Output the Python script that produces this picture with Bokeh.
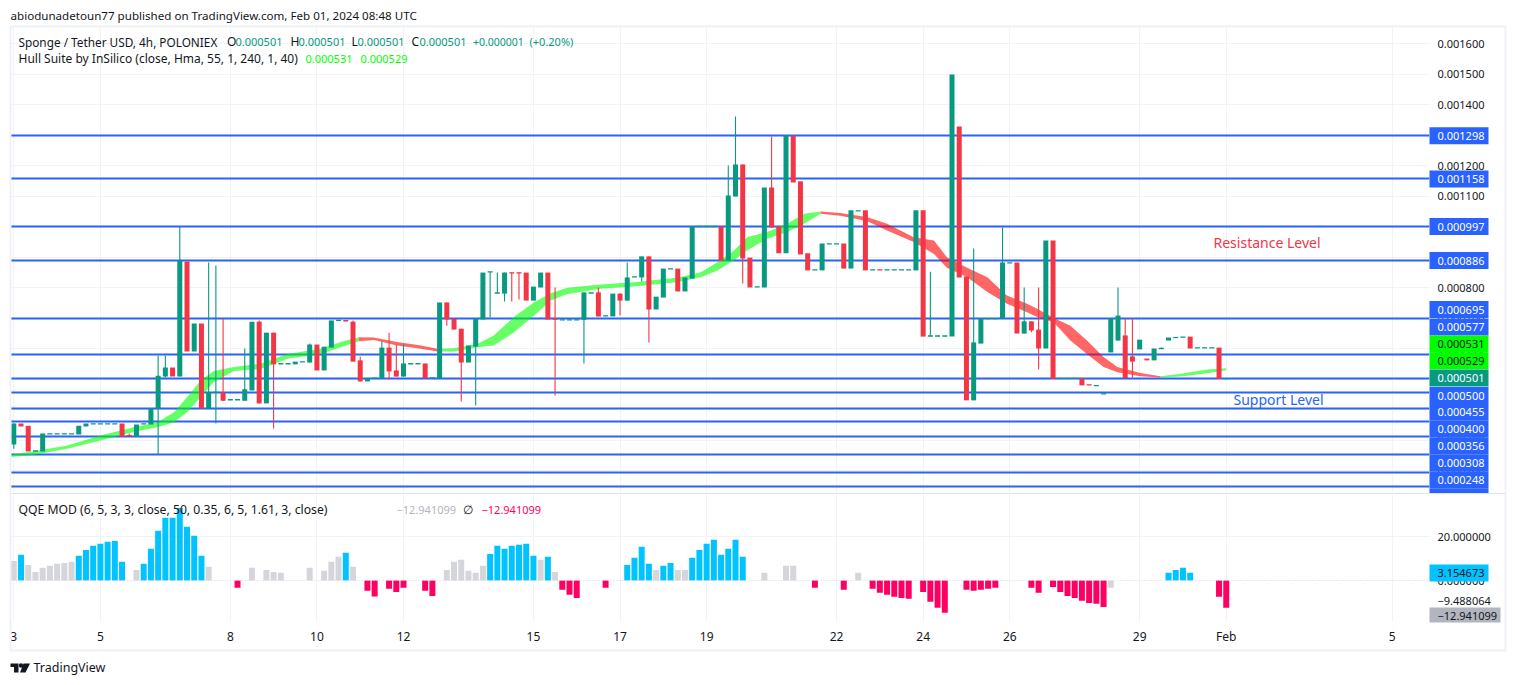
from bokeh.plotting import figure
from bokeh.layouts import column, row
from bokeh.embed import file_html
from bokeh.resources import INLINE
from bokeh.models import (Range1d, FixedTicker, PrintfTickFormatter, Grid, Label, LinearAxis, Span)
import numpy as np

FONT = "Noto Sans"
UNIT = 1e-6   # the price lists below are in millionths of USDT

# ---------- data ----------
opens = [285,354,347,264,262,320,320,320,320,318,
         344,353,353,353,353,354,315,311,353,351,
         402,508,538,508,885,590,682,403,456,456,
         432,432,429,462,688,420,652,550,550,548,
         556,554,613,528,603,692,692,688,561,492,
         503,502,603,528,508,550,550,551,504,502,
         751,698,665,554,606,695,851,782,780,849,
         849,849,757,800,849,697,694,694,694,694,
         782,784,707,705,780,757,835,833,902,728,
         767,861,862,787,829,1000,1000,1000,1000,889,
         1098,1203,898,802,800,1128,1001,912,1298,1148,
         912,858,856,943,943,944,862,1051,1053,858,
         859,858,858,858,858,856,1053,641,641,641,
         639,1328,836,430,616,698,698,698,881,882,
         649,689,662,600,954,502,502,502,502,482,
         478,451,587,626,643,574,597,567,561,600,
         626,634,637,639,602,602,602,603,501]
closes = [354,344,262,264,321,320,320,320,320,347,
          354,353,353,353,353,311,314,351,353,403,
          511,538,508,888,590,682,403,457,456,429,
          432,432,466,688,420,652,548,550,550,557,
          556,613,528,606,692,692,691,557,492,502,
          503,603,525,508,551,550,550,502,504,751,
          695,662,554,610,698,849,851,782,849,848,
          848,757,803,849,695,696,694,694,694,784,
          782,705,707,780,757,833,835,902,728,770,
          862,861,787,833,1000,1000,1000,1000,888,1102,
          1203,895,800,802,1128,997,912,1298,1144,908,
          856,858,944,943,943,862,1053,1051,856,858,
          858,858,858,858,858,1053,639,641,641,641,
          1498,833,430,620,698,698,698,882,881,649,
          689,659,600,954,500,502,502,502,479,481,
          478,451,698,708,503,557,629,561,600,600,
          636,638,637,600,602,602,602,500,501]
upper_wicks = {16:321,20:577,21:577,23:998,27:882,28:872,29:698,32:600,34:692,41:616,47:692,48:574,
               51:623,52:652,53:613,54:613,66:852,67:849,75:800,81:800,85:882,99:1200,100:1361,
               105:1295,127:852,133:928,137:997,140:800,142:800,153:800,154:698,155:698,159:603}
lower_wicks = {0:271,20:252,21:505,28:354,36:338,52:498,60:675,62:426,64:413,66:702,68:754,69:754,
               70:761,75:446,79:551,84:708,87:820,88:620,101:813,141:653,142:531,155:505}

hull_idx = [-0.4,2.8,7.4,12,16.6,19.9,22.2,24,25.9,27.7,30.5,34.2,37.9,42.5,45.3,47.8,
            49.9,53.1,56.4,58.7,61,64.2,66.5,69.3,72.1,74.4,76.7,81.3,85.9,91.9,95.2,97.5,99.8,
            101.6,104.4,107.2,109.5,111.8,114.5,118.2,121,124.7,127.5,129.3,132.1,134.9,137.6,
            140.4,141.8,144.1,146.4,148.7,151,152.9,156.1,158.9,161.7,165.4,168]
hull_top = [252,263,282,315,342,358,391,440,495,526,539,550,582,599,621,637,
            636,621,610,599,601,615,643,703,752,781,799,810,817,832,850,883,921,
            965,982,1009,1042,1049,1044,1031,1009,965,954,899,865,834,774,
            747,730,700,675,626,572,539,520,509,517,531,535]
hull_bottom = [244,252,271,298,326,342,358,391,440,490,526,533,566,582,604,624,
               628,610,599,590,590,604,610,653,708,757,779,796,803,817,834,856,889,
               921,960,982,1009,1042,1035,1018,987,949,910,865,834,785,747,
               719,703,686,626,582,539,522,509,505,508,519,529]
hull_flips = [47.8,58.7,111.8,158.9]

levels = [1298.4,1157.4,1000,888.5,698.4,580.3,501.6,455.7,403.3,360.7,311.5,252.5,193.5,147.5]
price_ticks = [1600,1500,1400,1300,1200,1100,1000,900,800,700,600,500,400,300,200]

qqe = [8.9,11.7,7.1,3.9,5.8,6.7,7.6,8.0,8.5,11.2,
       13.9,15.8,16.7,17.6,18.0,8.5,0,4.8,7.6,14.4,
       22.6,28.5,28.5,33.0,24.4,20.3,11.2,6.2,0,0,
       0,-3.3,0,5.8,0,4.8,3.9,3.5,0,0,
       0,5.8,0,4.4,8.5,10.8,12.6,6.2,0,-4.7,
       -7.3,0,-3.8,-5.2,-3.3,0,0,-4.7,-7.0,0,
       4.8,8.5,9.4,4.4,3.5,6.7,12.1,15.8,14.4,15.8,
       16.2,16.7,11.2,9.4,10.8,3.9,-4.2,-6.5,-7.9,0,
       0,0,-3.3,0,0,7.1,10.3,15.3,7.6,4.8,
       6.7,8.0,4.8,4.8,10.3,13.9,16.7,18.5,11.7,14.4,
       18.5,10.8,0,0,3.5,0,0,6.7,6.7,0,
       0,-3.3,0,0,0,-4.2,0,3.5,0,-3.8,
       -5.6,-6.5,-7.4,-7.9,-8.3,0,-5.2,-9.7,-12.4,-14.7,
       0,0,-4.2,-4.7,-4.2,-3.8,-3.3,0,0,0,
       0,-3.3,-5.6,0,-2.9,-5.2,-7.0,-7.9,-9.2,-10.2,
       -10.6,-12.0,-3.3,0,0,0,0,0,0,0,
       3.5,4.8,5.8,3.5,0,0,0,-7.4,-12.4]
qqe_grey = {0,2,3,4,5,6,7,8,17,27,33,35,36,37,41,43,44,45,47,60,61,62,63,64,65,73,75,89,92,93,
            104,107,108,117,152}

tick_bars = [0,12,30,42,54,72,84,96,114,126,138,156,168,191]
tick_names = ["3","5","8","10","12","15","17","19","22","24","26","29","Feb","5"]

BLUE_TAG, LIME, TEAL = "#2962FF", "#00FF00", "#089981"
tag_texts = [("0.001298",BLUE_TAG,"#FFFFFF"),("0.001158",BLUE_TAG,"#FFFFFF"),("0.000997",BLUE_TAG,"#FFFFFF"),
             ("0.000886",BLUE_TAG,"#FFFFFF"),("0.000695",BLUE_TAG,"#FFFFFF"),("0.000577",BLUE_TAG,"#FFFFFF"),
             ("0.000531",LIME,"#131722"),("0.000529",LIME,"#131722"),("0.000501",TEAL,"#FFFFFF"),
             ("0.000500",BLUE_TAG,"#FFFFFF"),("0.000455",BLUE_TAG,"#FFFFFF"),("0.000400",BLUE_TAG,"#FFFFFF"),
             ("0.000356",BLUE_TAG,"#FFFFFF"),("0.000308",BLUE_TAG,"#FFFFFF"),("0.000248",BLUE_TAG,"#FFFFFF")]
tag_rows = [135.3,178.5,226,260,309,326.5,343.5,360.3,377.5,395,411.7,428.7,445.7,462.7,479.7]

# ---------- geometry of the page (reference pixels) ----------
LEFT, RIGHT = 10, 1429
P_TOP, P_BOT = 27, 492
Q_TOP, Q_BOT = 494, 621
PAGE_W, PAGE_H = 1507, 677
BAR0, BAR_STEP = 13.3, 7.217
PX_PER_UNIT = 305000 * UNIT      # pixels per price unit
def price_at(y): return (1600 - (y - 43) / PX_PER_UNIT) * UNIT
def bar_at(x): return (x - BAR0) / BAR_STEP

x_range = Range1d(bar_at(LEFT), bar_at(RIGHT))

GREEN, RED, BLUE = "#089981", "#F23645", "#2962FF"
GRID = "#F0F3FA"
TEXT = "#131722"
NUM = "11px"
TXT = "12px"

def make_fig(height, top, bottom, y_range, **kw):
    f = figure(width=PAGE_W, height=height, x_range=x_range, y_range=y_range, output_backend="svg",
               toolbar_location=None, x_axis_location=None, y_axis_location="right",
               min_border_left=LEFT, min_border_right=PAGE_W - RIGHT, min_border_top=top,
               min_border_bottom=bottom, background_fill_color="white", border_fill_color="white",
               outline_line_color=None, **kw)
    f.grid.visible = False
    f.add_layout(Grid(dimension=0, ticker=FixedTicker(ticks=tick_bars), grid_line_color=GRID, grid_line_width=1))
    return f

def style_axis(ax):
    ax.axis_line_color = None
    ax.major_tick_line_color = None
    ax.minor_tick_line_color = None
    ax.major_label_text_font = FONT
    ax.major_label_text_font_size = NUM
    ax.major_label_text_color = TEXT

# ---------- price pane ----------
p = make_fig(P_BOT, P_TOP, 0, Range1d(price_at(P_BOT), price_at(P_TOP)))
p.add_layout(Grid(dimension=1, ticker=FixedTicker(ticks=[v * UNIT for v in price_ticks]),
                  grid_line_color=GRID, grid_line_width=1))
ax = p.yaxis[0]
ax.ticker = FixedTicker(ticks=[v * UNIT for v in price_ticks])
ax.formatter = PrintfTickFormatter(format="%.6f")
style_axis(ax)
ax.major_label_standoff = 2

p.hspan(y=[v * UNIT for v in levels], line_color=BLUE, line_width=2)

edges = [hull_idx[0]] + hull_flips + [hull_idx[-1]]
hx, ht, hb = np.array(hull_idx), np.array(hull_top) * UNIT, np.array(hull_bottom) * UNIT
for k in range(len(edges) - 1):
    m = (hx >= edges[k]) & (hx <= edges[k + 1])
    col = "#00FF00" if k % 2 == 0 else "#FF0000"
    p.varea(x=hx[m], y1=ht[m], y2=hb[m], fill_color=col, fill_alpha=0.6)

o, c = np.array(opens, float), np.array(closes, float)
idx = np.arange(len(o))
hi = np.maximum(o, c)
lo = np.minimum(o, c)
for k, v in upper_wicks.items(): hi[k] = v
for k, v in lower_wicks.items(): lo[k] = v
up = c >= o
doji = np.abs(c - o) <= 1
colors = np.where(up, GREEN, RED)
wick = hi - lo > np.abs(c - o)
p.segment(x0=idx[wick], x1=idx[wick], y0=hi[wick] * UNIT, y1=lo[wick] * UNIT, line_color=colors[wick], line_width=1.1)
big = ~doji
BW = 5 / BAR_STEP
p.vbar(x=idx[big], width=BW, top=np.maximum(o, c)[big] * UNIT, bottom=np.minimum(o, c)[big] * UNIT,
       fill_color=colors[big], line_color=None)
p.vbar(x=idx[doji], width=BW, top=c[doji] * UNIT, bottom=c[doji] * UNIT, fill_color=colors[doji],
       line_color=colors[doji], line_width=1.3)

# ---------- QQE pane ----------
QS = 2.2  # pixels per unit
qrange = Range1d((580 - Q_BOT) / QS, (580 - Q_TOP) / QS)
q = make_fig(PAGE_H - P_BOT, Q_TOP - P_BOT, PAGE_H - Q_BOT, qrange)
q.add_layout(Grid(dimension=1, ticker=FixedTicker(ticks=[20]), grid_line_color=GRID, grid_line_width=1))
qa = q.yaxis[0]
qa.ticker = FixedTicker(ticks=[20, 0, -9.488064])
qa.major_label_overrides = {20: "20.000000", 0: "0.000000", -9.488064: "\u22129.488064"}
style_axis(qa)
qa.major_label_standoff = 2

qv = np.array(qqe, float)
qcol = ["#D5D6DB" if i in qqe_grey else ("#00C3FF" if v > 0 else "#FF0062") for i, v in enumerate(qv)]
qi = np.arange(len(qv))
m = qv != 0
q.vbar(x=qi[m], width=6 / BAR_STEP, top=qv[m], bottom=0, fill_color=[qcol[i] for i in qi[m]], line_color=None)
q.add_layout(Span(location=0, dimension="width", line_color="#D5D6DB", line_width=1, line_dash="1 2"))

xa = LinearAxis(ticker=FixedTicker(ticks=tick_bars),
                major_label_overrides=dict(zip(tick_bars, tick_names)))
xa.major_label_standoff = 0
style_axis(xa)
xa.major_label_text_font_size = TXT
q.add_layout(xa, "below")

# ---------- transparent sheet over the panes: page furniture, tags and legends, in page pixels ----------
ov = figure(width=PAGE_W, height=PAGE_H, x_range=Range1d(0, PAGE_W), y_range=Range1d(PAGE_H, 0),
            output_backend="svg", toolbar_location=None, x_axis_location=None, y_axis_location=None,
            min_border=0, background_fill_color=None, border_fill_color=None, outline_line_color=None,
            styles={"position": "absolute", "left": "0px", "top": "0px"})
ov.grid.visible = False

def put(text, x, y, color=TEXT, size=TXT):
    ov.add_layout(Label(x=x, y=y, text=text, text_color=color, text_font=FONT, text_font_size=size,
                        text_align="left", text_baseline="middle"))

def tag(text, y, bg, fg, right=1488):
    ov.quad(left=RIGHT, right=right, top=y - 8.5, bottom=min(y + 8.5, 622), fill_color=bg, line_color=None)
    put(text, 1437, y, color=fg, size=NUM)

ov.quad(left=10, right=1505, top=26, bottom=650, fill_color=None, line_color="#EFF1F6", line_width=2)
ov.segment(x0=10, x1=1505, y0=493, y1=493, line_color="#E0E3EB", line_width=1)

for (txt, bg, fg), y in zip(tag_texts, tag_rows):
    tag(txt, y, bg, fg)
ov.quad(left=RIGHT, right=1488, top=488.2, bottom=492.5, fill_color=BLUE_TAG, line_color=None)

put("abiodunadetoun77 published on TradingView.com, Feb 01, 2024 08:48 UTC", 10, 15, size="11.6px")
put("Sponge / Tether USD, 4h, POLONIEX", 18, 41, size="11.8px")
for letter, lx, vx in [("O", 226.5, 235), ("H", 290, 298), ("L", 351, 357), ("C", 411, 419)]:
    put(letter, lx, 41)
    put("0.000501", vx, 41, color=GREEN, size=NUM)
put("+0.000001", 472.5, 41, color=GREEN, size="10.5px")
put("(+0.20%)", 529, 41, color=GREEN, size=NUM)
put("Hull Suite by InSilico (close, Hma, 55, 1, 240, 1, 40)", 18, 58)
put("0.000531", 305, 58, color=LIME, size=NUM)
put("0.000529", 360, 58, color=LIME, size=NUM)
put("Resistance Level", 1213, 242, color=RED, size="14px")
put("Support Level", 1233, 399, color=BLUE, size="14px")

tag("3.154673", 572.5, "#00C3FF", TEXT)
tag("\u221212.941099", 615.5, "#B2B5BE", TEXT, right=1500)
put("QQE MOD (6, 5, 3, 3, close, 50, 0.35, 6, 5, 1.61, 3, close)", 18, 509, size="12.2px")
put("\u221212.941099", 396, 509, color="#B2B5BE", size=NUM)
put("\u2205", 462, 509)
put("\u221212.941099", 481, 509, color="#FF0062", size=NUM)
put("TradingView", 33, 667, size="12.5px")

# logo mark
ov.patches(xs=[[10, 18, 18, 13.5, 13.5, 10], [23, 29.5, 25, 19.5]],
           ys=[[663, 663, 672, 672, 666.5, 666.5], [663, 663, 672, 672]], fill_color=TEXT, line_color=None)
ov.scatter(x=[20.5], y=[665], size=4.5, marker="circle", fill_color=TEXT, line_color=None)

page = row(column(p, q, spacing=0), ov, spacing=0)
open("out.html", "w").write(file_html(page, INLINE))
